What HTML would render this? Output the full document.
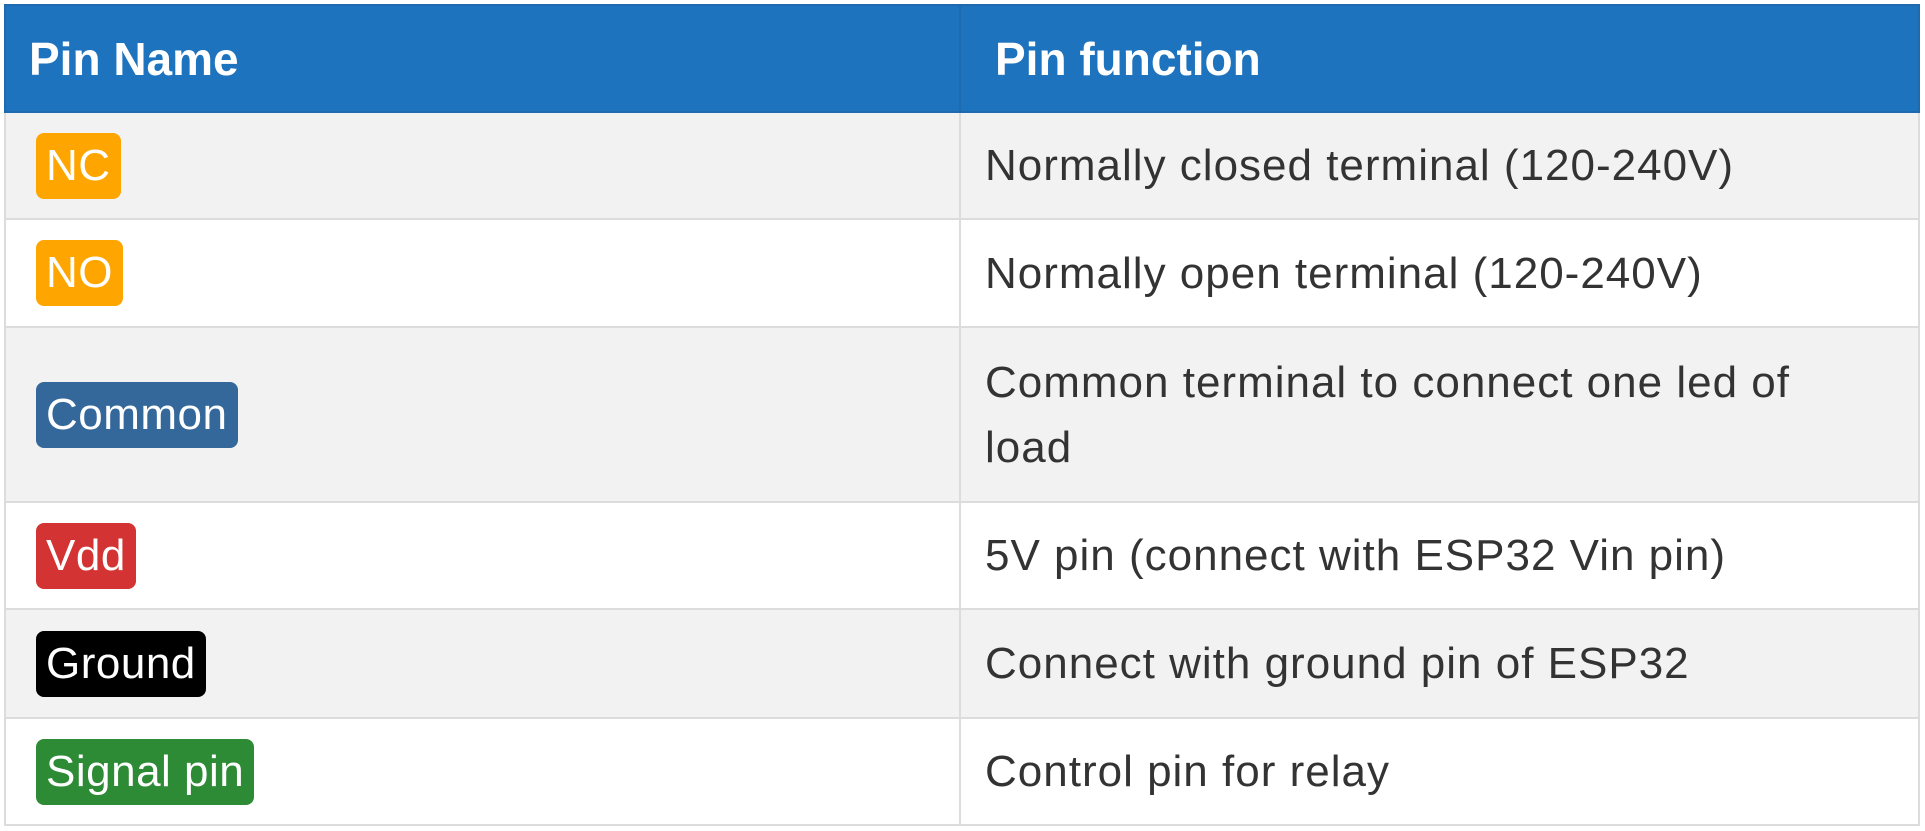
<!DOCTYPE html>
<html><head><style>
body{margin:0;width:1925px;height:831px;background:#fff;font-family:"Liberation Sans",sans-serif;overflow:hidden}
table{position:absolute;left:4px;top:4px;width:1916px;border-collapse:collapse}
td,th{border:2px solid #dcdcdc;padding:0;text-align:left;vertical-align:middle}
th{background:#1e73be;color:#fff;font-size:46px;font-weight:bold;height:105px;border-color:#1e6aae}
th.a{padding-left:23px;width:930px}
th.b{padding-left:34px}
td{font-size:44px;color:#333;letter-spacing:1px}
td.a{padding-left:30px}
td.b{padding-left:24px;line-height:65px}
tr.g td{background:#f2f2f2}
.bd{display:inline-block;color:#fff;border-radius:8px;padding:0 10px;height:66px;line-height:66px;font-size:44px;letter-spacing:0.5px}
</style></head><body>
<table>
<tr><th class="a">Pin Name</th><th class="b">Pin function</th></tr>
<tr class="g" style="height:107px"><td class="a"><span class="bd" style="background:#ffa500">NC</span></td><td class="b">Normally closed terminal (120-240V)</td></tr>
<tr style="height:108px"><td class="a"><span class="bd" style="background:#ffa500">NO</span></td><td class="b">Normally open terminal (120-240V)</td></tr>
<tr class="g" style="height:175px"><td class="a"><span class="bd" style="background:#35689a">Common</span></td><td class="b">Common terminal to connect one led of<br>load</td></tr>
<tr style="height:107px"><td class="a"><span class="bd" style="background:#d33333">Vdd</span></td><td class="b">5V pin (connect with ESP32 Vin pin)</td></tr>
<tr class="g" style="height:109px"><td class="a"><span class="bd" style="background:#000">Ground</span></td><td class="b">Connect with ground pin of ESP32</td></tr>
<tr style="height:107px"><td class="a"><span class="bd" style="background:#2e8b35">Signal pin</span></td><td class="b">Control pin for relay</td></tr>
</table>
</body></html>
